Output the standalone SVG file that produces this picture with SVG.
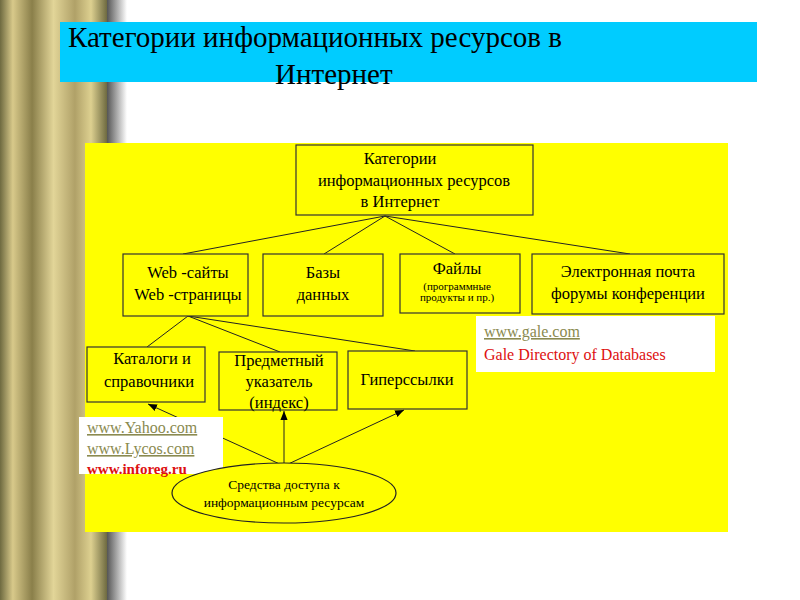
<svg xmlns="http://www.w3.org/2000/svg" width="800" height="600" viewBox="0 0 800 600">
<defs>
<linearGradient id="gold" x1="0" y1="0" x2="1" y2="0">
<stop offset="0" stop-color="#6e6a40"/><stop offset="0.12" stop-color="#d8c98a"/><stop offset="0.3" stop-color="#8a7f4a"/><stop offset="0.5" stop-color="#e2d598"/><stop offset="0.7" stop-color="#b0a168"/><stop offset="0.85" stop-color="#ddd090"/><stop offset="1" stop-color="#6e6a40"/>
</linearGradient>
<linearGradient id="shadow" x1="0" y1="0" x2="1" y2="0">
<stop offset="0" stop-color="#555"/><stop offset="1" stop-color="#fff"/>
</linearGradient>
<marker id="arr" viewBox="0 0 10 10" refX="10" refY="5" markerWidth="9" markerHeight="9" orient="auto"><path d="M0,1 L10,5 L0,9 Z" fill="#000"/></marker>
<style>
text{font-family:'Liberation Serif','Times New Roman','DejaVu Serif',serif}
.b{fill:#ffff00;stroke:#333;stroke-width:1.2}
.t{font-size:16.5px;fill:#000;text-anchor:middle}
.s{font-size:11px;fill:#000;text-anchor:middle}
.e{font-size:13.5px;fill:#000;text-anchor:middle}
.l{stroke:#222;stroke-width:1;fill:none}
.u{font-size:16px;fill:#8a8a50;text-decoration:underline}
.r{font-size:16px;fill:#dd1010}
.h{font-size:29px;fill:#000}
</style>
</defs>
<rect width="800" height="600" fill="#fff"/>
<rect x="0" y="0" width="107" height="600" fill="url(#gold)"/>
<rect x="107" y="0" width="20" height="600" fill="url(#shadow)"/>
<rect x="60" y="22" width="697" height="60" fill="#00ccff"/>
<text class="h" x="68" y="47">Категории информационных ресурсов  в</text>
<text class="h" x="275" y="84">Интернет</text>
<rect x="85" y="143" width="643" height="389" fill="#ffff00"/>
<g id="connectors">
<line class="l" x1="385" y1="216" x2="183" y2="254"/>
<line class="l" x1="385" y1="216" x2="324" y2="254"/>
<line class="l" x1="385" y1="216" x2="455" y2="254"/>
<line class="l" x1="385" y1="216" x2="630" y2="254"/>
<line class="l" x1="188" y1="316" x2="147" y2="347"/>
<line class="l" x1="188" y1="316" x2="280" y2="352"/>
<line class="l" x1="188" y1="316" x2="415" y2="351"/>
<line class="l" x1="284" y1="466" x2="148" y2="404" marker-end="url(#arr)"/>
<line class="l" x1="284" y1="466" x2="284" y2="411" marker-end="url(#arr)"/>
<line class="l" x1="284" y1="466" x2="404" y2="410" marker-end="url(#arr)"/>
</g>
<g id="top"><rect class="b" x="296" y="145" width="237" height="70"/>
<text class="t" x="400" y="164">Категории</text><text class="t" x="414" y="186">информационных ресурсов</text><text class="t" x="400" y="207">в Интернет</text></g>
<g id="web"><rect class="b" x="123" y="254" width="125" height="62"/>
<text class="t" x="188" y="278">Web -сайты</text><text class="t" x="188" y="300">Web -страницы</text></g>
<g id="db"><rect class="b" x="263" y="254" width="120" height="62"/>
<text class="t" x="323" y="278">Базы</text><text class="t" x="323" y="300">данных</text></g>
<g id="files"><rect class="b" x="400" y="254" width="120" height="59"/>
<text class="t" x="457" y="274">Файлы</text><text class="s" x="457" y="290">(программные</text><text class="s" x="457" y="301">продукты и пр.)</text></g>
<g id="mail"><rect class="b" x="532" y="254" width="192" height="60"/>
<text class="t" x="628" y="277">Электронная почта</text><text class="t" x="628" y="299">форумы  конференции</text></g>
<g id="gale"><rect x="476" y="316" width="239" height="56" fill="#fff"/>
<text class="u" x="484" y="337">www.gale.com</text><text class="r" x="484" y="360">Gale Directory of Databases</text></g>
<g id="cat"><rect class="b" x="87" y="347" width="118" height="55"/>
<text class="t" x="152" y="364">Каталоги и</text><text class="t" x="149" y="387">справочники</text></g>
<g id="idx"><rect class="b" x="219" y="352" width="118" height="58"/>
<text class="t" x="279" y="366">Предметный</text><text class="t" x="279" y="387">указатель</text><text class="t" x="279" y="408">(индекс)</text></g>
<g id="hyp"><rect class="b" x="348" y="351" width="119" height="58"/>
<text class="t" x="407" y="385">Гиперссылки</text></g>
<g id="yahoo"><rect x="79" y="417" width="144" height="57" fill="#fff"/>
<text class="u" x="87" y="433">www.Yahoo.com</text><text class="u" x="87" y="454">www.Lycos.com</text><text class="r" x="87" y="474" font-weight="bold" style="font-size:15px">www.inforeg.ru</text></g>
<g id="access"><ellipse cx="284" cy="493" rx="112" ry="30" fill="#ffff00" stroke="#222" stroke-width="1.2"/>
<text class="e" x="284" y="489">Средства доступа к</text><text class="e" x="284" y="507">информационным ресурсам</text></g>
</svg>
